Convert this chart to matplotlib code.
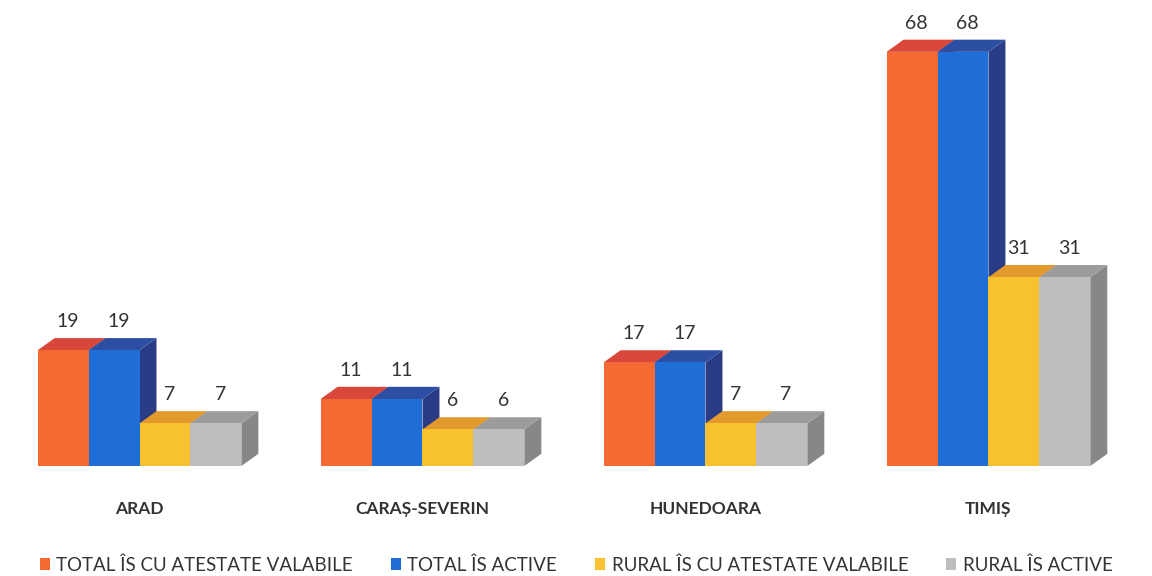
import matplotlib.pyplot as plt
from matplotlib.patches import Polygon, Patch
import numpy as np

plt.rcParams['font.family'] = ['Lato', 'DejaVu Sans']

judete = ['ARAD', 'CARAȘ-SEVERIN', 'HUNEDOARA', 'TIMIȘ']
serii = ['TOTAL ÎS CU ATESTATE VALABILE', 'TOTAL ÎS ACTIVE',
         'RURAL ÎS CU ATESTATE VALABILE', 'RURAL ÎS ACTIVE']
valori = [
    [19, 11, 17, 68],
    [19, 11, 17, 68],
    [7, 6, 7, 31],
    [7, 6, 7, 31],
]
fata = ['#F56A33', '#1F6DD6', '#F8C12F', '#BEBEBE']
sus = ['#D9473A', '#2C4FA3', '#E39A2C', '#9C9C9C']
lateral = ['#B8412E', '#2A3C85', '#C98A25', '#878787']

fig = plt.figure(figsize=(11.52, 5.76), dpi=100)
ax = fig.add_axes([0, 0.191, 1, 0.793])
ax.set_xlim(-0.493, 3.578)
ax.set_ylim(0, 75)
ax.axis('off')

w = 0.18
dx = 0.06
dy = 2.0
x = np.arange(len(judete))

z = 1
for g in range(len(judete)):
    for s in range(len(serii)):
        h = valori[s][g]
        x0 = x[g] + (s - 2) * w
        x1 = x0 + w
        side = Polygon([(x1, 0), (x1 + dx, dy), (x1 + dx, h + dy), (x1, h)],
                       closed=True, facecolor=lateral[s], edgecolor='none', zorder=z)
        top = Polygon([(x0, h), (x0 + dx, h + dy), (x1 + dx, h + dy), (x1, h)],
                      closed=True, facecolor=sus[s], edgecolor='none', zorder=z)
        ax.add_patch(side)
        ax.add_patch(top)
        ax.bar(x0, h, width=w, align='edge', color=fata[s], zorder=z + 1)
        ax.text(x0 + w / 2 + dx / 4, h + dy + 1.3, str(h), ha='center', va='bottom',
                fontsize=14, color='#333333', zorder=50)
        z += 2
    ax.text(x[g], -7.0, judete[g], ha='center', va='center', fontsize=12.5,
            fontweight='bold', color='#333333')

handles = [Patch(facecolor=c, edgecolor='none') for c in fata]
fig.legend(handles, serii, loc='lower center', ncol=4, frameon=False,
           bbox_to_anchor=(0.5, -0.025), fontsize=13.5, handlelength=0.55,
           handleheight=0.55, handletextpad=0.35, columnspacing=2.0,
           labelcolor='#333333')

fig.savefig('out.png', dpi=100)
